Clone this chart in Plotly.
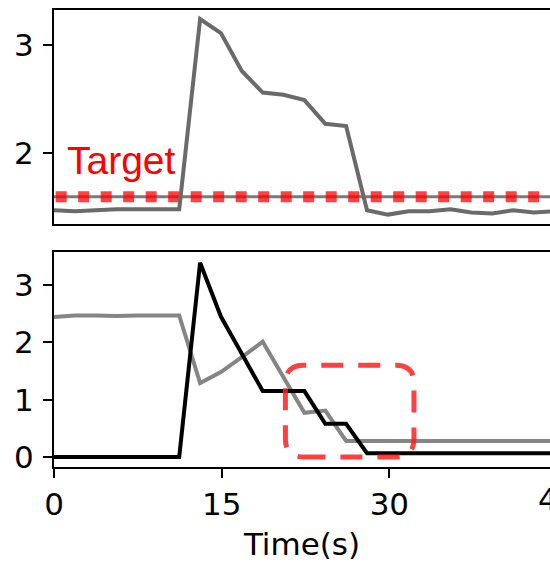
import plotly.graph_objects as go
from plotly.subplots import make_subplots

# ---- data ----
time_s = [0.0, 1.87, 3.73, 5.6, 7.47, 9.33, 11.2, 13.07, 14.93, 16.8, 18.67, 20.53,
          22.4, 24.27, 26.13, 28.0, 29.87, 31.73, 33.6, 35.47, 37.33, 39.2, 41.07, 42.93, 44.8]
top_series = [1.47, 1.46, 1.47, 1.48, 1.48, 1.48, 1.48, 3.24, 3.11, 2.76, 2.56, 2.54,
              2.49, 2.27, 2.25, 1.47, 1.43, 1.46, 1.46, 1.48, 1.45, 1.44, 1.47, 1.45, 1.46]
bottom_gray = [2.44, 2.47, 2.47, 2.46, 2.47, 2.47, 2.47, 1.29, 1.48, 1.74, 2.01, 1.39,
               0.77, 0.81, 0.28, 0.28, 0.28, 0.28, 0.28, 0.28, 0.28, 0.28, 0.28, 0.28, 0.28]
bottom_black = [0, 0, 0, 0, 0, 0, 0, 3.39, 2.45, 1.8, 1.15, 1.15,
                1.15, 0.58, 0.58, 0.065, 0.065, 0.065, 0.065, 0.065, 0.065, 0.065, 0.065, 0.065, 0.065]
target_value = 1.595
target_label = "Target"
x_ticks = [0, 15, 30]
x_tick_labels = ["0", "15", "30"]
extra_tick_label = "45"
top_yticks = [2, 3]
bottom_yticks = [0, 1, 2, 3]
x_title = "Time(s)"
# highlighted region (data units)
box_x = [20.7, 32.2]
box_y = [0.0, 1.6]

X_RANGE = [0, 44.37]
TOP_RANGE = [1.343, 3.324]
BOT_RANGE = [-0.175, 3.576]

W, H = 550, 563
ML, MR, MT, MB = 54, 0, 10, 96

fig = make_subplots(rows=2, cols=1, shared_xaxes=False, vertical_spacing=0.0)

# top panel
fig.add_trace(go.Scatter(x=[X_RANGE[0], X_RANGE[1]], y=[target_value, target_value], mode="lines",
                         line=dict(color="#7a7a7a", width=3), hoverinfo="skip"), row=1, col=1)
fig.add_trace(go.Scatter(x=[X_RANGE[0] + 0.15, X_RANGE[1]], y=[target_value, target_value], mode="lines",
                         line=dict(color="rgba(255,0,0,0.75)", width=11, dash="11px,11.5px"),
                         hoverinfo="skip"), row=1, col=1)
fig.add_trace(go.Scatter(x=time_s, y=top_series, mode="lines",
                         line=dict(color="#6a6a6a", width=4)), row=1, col=1)

# bottom panel
fig.add_trace(go.Scatter(x=time_s, y=bottom_gray, mode="lines",
                         line=dict(color="#858585", width=4)), row=2, col=1)
fig.add_trace(go.Scatter(x=time_s, y=bottom_black, mode="lines",
                         line=dict(color="black", width=4)), row=2, col=1)

axis_font = dict(family="DejaVu Sans", size=31, color="black")
common_x = dict(range=X_RANGE, showline=True, linecolor="black", linewidth=2, mirror=True,
                showgrid=False, zeroline=False)
fig.update_xaxes(**common_x, showticklabels=False, ticks="", row=1, col=1)
fig.update_xaxes(**common_x, tickmode="array", tickvals=x_ticks, ticktext=x_tick_labels,
                 ticks="outside", ticklen=9, tickwidth=2, tickcolor="black", tickfont=axis_font,
                 title=dict(text=x_title, font=axis_font, standoff=12), row=2, col=1)
common_y = dict(showline=True, linecolor="black", linewidth=2, showgrid=False, zeroline=False,
                ticks="outside", ticklen=9, tickwidth=2, tickcolor="black", tickfont=axis_font,
                ticklabelstandoff=3)
fig.update_yaxes(**common_y, range=TOP_RANGE, tickvals=top_yticks, row=1, col=1)
fig.update_yaxes(**common_y, range=BOT_RANGE, tickvals=bottom_yticks, row=2, col=1)

plot_h = H - MT - MB
fig.update_layout(
    yaxis=dict(domain=[(467 - 224) / plot_h, 1.0]),
    yaxis2=dict(domain=[0.0, (467 - 252) / plot_h]),
)

# Target label
fig.add_annotation(x=1.0, y=target_value + 0.19, xref="x", yref="y", text=target_label,
                   showarrow=False, xanchor="left", yanchor="bottom", yshift=-8,
                   font=dict(family="Liberation Sans, Arial", size=39, color="red"))

# clipped 45 tick label beyond right edge
px_per_unit = (W - ML - MR) / (X_RANGE[1] - X_RANGE[0])
x45_paper = 1 + (45 - X_RANGE[1]) * px_per_unit / (W - ML - MR)
fig.add_annotation(x=x45_paper, y=0, xref="paper", yref="paper", text=extra_tick_label,
                   showarrow=False, xanchor="center", yanchor="top", yshift=-12,
                   font=axis_font)

# rounded dashed highlight box
x0, x1 = box_x
y0, y1 = box_y
rx = 18 / px_per_unit
ry = 18 / ((467 - 252) / (BOT_RANGE[1] - BOT_RANGE[0]))
path = (f"M {x0+rx},{y0} L {x1-rx},{y0} Q {x1},{y0} {x1},{y0+ry} "
        f"L {x1},{y1-ry} Q {x1},{y1} {x1-rx},{y1} L {x0+rx},{y1} "
        f"Q {x0},{y1} {x0},{y1-ry} L {x0},{y0+ry} Q {x0},{y0} {x0+rx},{y0} Z")
fig.add_shape(type="path", path=path, xref="x2", yref="y2",
              line=dict(color="rgba(255,30,30,0.85)", width=5, dash="22px,15px"),
              layer="above")

fig.update_layout(width=W, height=H, margin=dict(l=ML, r=MR, t=MT, b=MB),
                  paper_bgcolor="white", plot_bgcolor="white", showlegend=False)

fig.write_html("out.html")
